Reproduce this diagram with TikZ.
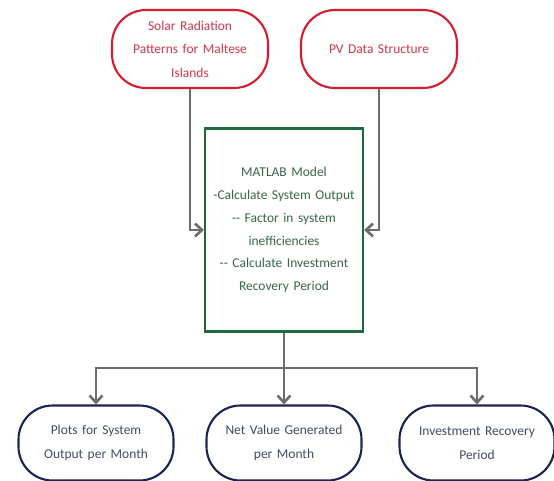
\documentclass[tikz,border=0pt]{standalone}
\usepackage{fontspec}
\setmainfont{Carlito}
\usetikzlibrary{arrows.meta}
\definecolor{inred}{RGB}{214,28,48}
\definecolor{inredtxt}{RGB}{208,56,76}
\definecolor{modgreen}{RGB}{32,106,62}
\definecolor{modgreentxt}{RGB}{56,102,76}
\definecolor{outnavy}{RGB}{26,36,86}
\definecolor{outnavytxt}{RGB}{66,74,106}
\definecolor{linkgray}{RGB}{108,108,108}
\begin{document}
\begin{tikzpicture}[x=0.3mm, y=-0.3mm,
  inbox/.style={draw=inred, line width=1.8pt, rectangle, rounded corners=34*0.3mm, align=center, text=inredtxt, font=\fontsize{11.5}{20}\selectfont, minimum width=4.68cm, minimum height=2.34cm, text width=4.1cm, fill=white, inner sep=2pt},
  modelbox/.style={draw=modgreen, line width=1.8pt, rectangle, align=center, text=modgreentxt, font=\fontsize{11.5}{19.5}\selectfont, minimum width=4.74cm, minimum height=6.09cm, text width=4.5cm, fill=white, inner sep=2pt},
  outbox/.style={draw=outnavy, line width=1.8pt, rectangle, rounded corners=34*0.3mm, align=center, text=outnavytxt, font=\fontsize{11.5}{20}\selectfont, minimum width=4.65cm, minimum height=2.25cm, text width=4.1cm, fill=white, inner sep=2pt},
  link/.style={draw=linkgray, line width=2.4pt},
  arrow/.style={link, -{Straight Barb[length=6pt, width=11pt, line width=2.2pt]}}
]
\useasboundingbox[fill=white] (0,0) rectangle (554,480);

% Row 1: inputs
\node[inbox] (solar) at (190, 49) {Solar Radiation\\Patterns for Maltese\\Islands};
\node[inbox] (pvdata) at (379, 49) {PV Data Structure};

% Row 2: model
\node[modelbox] (matlab) at (284, 230) {MATLAB Model\\-Calculate System Output\\{-}{-} Factor in system\\inefficiencies\\{-}{-} Calculate Investment\\Recovery Period};

\draw[arrow] (solar.south) |- (matlab.west);
\draw[arrow] (pvdata.south) |- (matlab.east);

% Row 3: outputs
\node[outbox] (plots) at (96, 443) {Plots for System\\Output per Month};
\node[outbox] (netval) at (284, 443) {Net Value Generated\\per Month};
\node[outbox] (payback) at (477, 443) {Investment Recovery\\Period};

\coordinate (split) at (284, 368);
\draw[link] (matlab.south) -- (split);
\draw[arrow] (split) -| (plots.north);
\draw[arrow] (split) -- (netval.north);
\draw[arrow] (split) -| (payback.north);

\end{tikzpicture}
\end{document}
